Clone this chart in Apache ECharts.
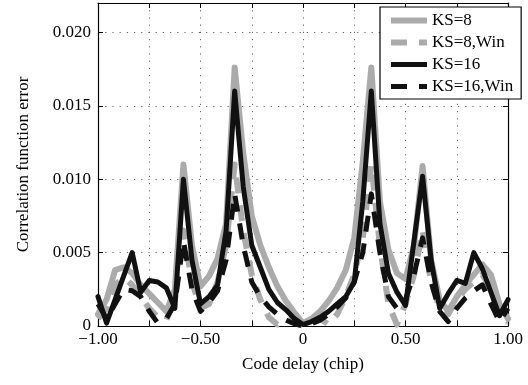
<!DOCTYPE html>
<html>
<head>
<meta charset="utf-8">
<script src="https://cdn.jsdelivr.net/npm/echarts@6/dist/echarts.min.js"></script>
<style>html,body{margin:0;padding:0;background:#fff;}#c{width:528px;height:385px;}</style>
</head>
<body>
<div id="c"></div>
<script>
// Code delay samples (chip)
const codeDelay = [-1, -0.9583, -0.9167, -0.875, -0.8333, -0.7917, -0.75, -0.7083, -0.6667, -0.625, -0.5833, -0.5417, -0.5, -0.4583, -0.4167, -0.375, -0.3333, -0.2917, -0.25, -0.2083, -0.1667, -0.125, -0.0833, -0.0417, 0, 0.0417, 0.0833, 0.125, 0.1667, 0.2083, 0.25, 0.2917, 0.3333, 0.375, 0.4167, 0.4583, 0.5, 0.5417, 0.5833, 0.625, 0.6667, 0.7083, 0.75, 0.7917, 0.8333, 0.875, 0.9167, 0.9583, 1];

const ks8 = [0.0008, 0.0018, 0.0038, 0.0040, 0.0036, 0.0028, 0.0022, 0.0016, 0.0010, 0.0025, 0.0110, 0.0055, 0.0027, 0.0034, 0.0046, 0.0070, 0.0176, 0.0118, 0.0075, 0.0055, 0.0040, 0.0027, 0.0017, 0.0009, 0.0002, 0.0005, 0.0010, 0.0017, 0.0026, 0.0038, 0.0060, 0.0112, 0.0176, 0.0085, 0.0052, 0.0036, 0.0032, 0.0055, 0.0109, 0.0045, 0.0018, 0.0010, 0.0020, 0.0028, 0.0035, 0.0042, 0.0035, 0.0015, 0.0005];

const ks8Win = [0.0005, 0.0012, 0.0028, 0.0033, 0.0028, 0.0020, 0.0012, 0.0006, 0.0004, 0.0020, 0.0065, 0.0030, 0.0012, 0.0015, 0.0030, 0.0055, 0.0110, 0.0065, 0.0035, 0.0018, 0.0006, 0.0001, 0.0005, 0.0003, 0.0000, 0.0003, 0.0005, 0.0001, 0.0008, 0.0020, 0.0035, 0.0060, 0.0110, 0.0055, 0.0015, 0.0001, 0.0015, 0.0035, 0.0065, 0.0030, 0.0012, 0.0008, 0.0018, 0.0025, 0.0030, 0.0035, 0.0025, 0.0005, 0.0003];

const ks16 = [0.0020, 0.0002, 0.0018, 0.0034, 0.0050, 0.0023, 0.0031, 0.0030, 0.0026, 0.0012, 0.0100, 0.0045, 0.0015, 0.0020, 0.0028, 0.0065, 0.0160, 0.0095, 0.0055, 0.0040, 0.0025, 0.0016, 0.0011, 0.0005, 0.0001, 0.0003, 0.0006, 0.0010, 0.0015, 0.0020, 0.0030, 0.0085, 0.0160, 0.0070, 0.0036, 0.0023, 0.0014, 0.0058, 0.0102, 0.0045, 0.0012, 0.0022, 0.0031, 0.0029, 0.0050, 0.0039, 0.0023, 0.0007, 0.0018];

const ks16Win = [0.0015, 0.0005, 0.0015, 0.0025, 0.0024, 0.0020, 0.0010, 0.0002, 0.0005, 0.0015, 0.0058, 0.0025, 0.0010, 0.0016, 0.0024, 0.0045, 0.0090, 0.0055, 0.0030, 0.0020, 0.0013, 0.0008, 0.0004, 0.00015, 0.0000, 0.00015, 0.0004, 0.0008, 0.0013, 0.0019, 0.0030, 0.0050, 0.0090, 0.0050, 0.0020, 0.0012, 0.0018, 0.0035, 0.0060, 0.0030, 0.0010, 0.0003, 0.0012, 0.0019, 0.0024, 0.0028, 0.0015, 0.0003, 0.0012];

const seriesNames = ['KS=8', 'KS=8,Win', 'KS=16', 'KS=16,Win'];
const seriesValues = [ks8, ks8Win, ks16, ks16Win];

const xAxisName = 'Code delay (chip)';
const yAxisName = 'Correlation function error';

const FONT = 'Liberation Serif';
const GREY = '#ababab';
const BLACK = '#111111';

function pairs(vals) { return codeDelay.map((x, i) => [x, vals[i]]); }

const styles = [
  { color: GREY, width: 6, type: 'solid' },
  { color: GREY, width: 6, type: [16, 12] },
  { color: BLACK, width: 5, type: 'solid' },
  { color: BLACK, width: 5, type: [16, 12] }
];

function xFmt(v) {
  if (Math.abs(v * 2 - Math.round(v * 2)) > 1e-6) return '';
  if (Math.abs(v) < 1e-9) return '0';
  return (v < 0 ? '\u2212' : '') + Math.abs(v).toFixed(2);
}
function yFmt(v) {
  if (Math.abs(v / 0.005 - Math.round(v / 0.005)) > 1e-6) return '';
  if (Math.abs(v) < 1e-12) return '0';
  return v.toFixed(3);
}

const chart = echarts.init(document.getElementById('c'), null, { renderer: 'canvas' });
const axisCommonLine = { show: true, onZero: false, lineStyle: { color: '#000', width: 1.2 } };
const tickCommon = { show: true, inside: true, length: 5, lineStyle: { color: '#000', width: 1 } };
const dotted = { show: true, lineStyle: { color: '#666', width: 1, type: [1.2, 6] } };

chart.setOption({
  animation: false,
  backgroundColor: '#fff',
  grid: { left: 98, right: 20, top: 3, bottom: 59, containLabel: false, outerBoundsMode: 'none' },
  legend: {
    orient: 'vertical',
    left: 380, top: 7,
    padding: [5, 8, 4, 8],
    itemGap: 5,
    itemWidth: 36, itemHeight: 18,
    backgroundColor: '#fff',
    borderColor: '#000', borderWidth: 1.2,
    z: 10,
    itemStyle: { opacity: 0, borderWidth: 0 },
    textStyle: { fontFamily: FONT, fontSize: 17, color: '#000' },
    data: seriesNames.map((n, k) => ({
      name: n,
      lineStyle: { color: styles[k].color, width: styles[k].width, type: styles[k].type, opacity: 1, cap: 'butt' }
    }))
  },
  xAxis: [
    {
      type: 'value', min: -1, max: 1, interval: 0.25, position: 'bottom',
      name: xAxisName, nameLocation: 'middle', nameGap: 30,
      nameTextStyle: { fontFamily: FONT, fontSize: 17, color: '#000' },
      axisLine: axisCommonLine, axisTick: tickCommon,
      axisLabel: { formatter: xFmt, fontFamily: FONT, fontSize: 17, color: '#000', margin: 5 },
      splitLine: dotted
    },
    {
      type: 'value', min: -1, max: 1, interval: 0.25, position: 'top',
      axisLine: axisCommonLine, axisTick: tickCommon,
      axisLabel: { show: false }, splitLine: { show: false }
    }
  ],
  yAxis: [
    {
      type: 'value', min: 0, max: 0.022, interval: 0.005, position: 'left',
      name: yAxisName, nameLocation: 'middle', nameGap: 66,
      nameTextStyle: { fontFamily: FONT, fontSize: 17, color: '#000' },
      axisLine: axisCommonLine, axisTick: tickCommon,
      axisLabel: { formatter: yFmt, fontFamily: FONT, fontSize: 17, color: '#000', margin: 7, showMaxLabel: false },
      splitLine: dotted
    },
    {
      type: 'value', min: 0, max: 0.022, interval: 0.005, position: 'right',
      axisLine: axisCommonLine, axisTick: tickCommon,
      axisLabel: { show: false }, splitLine: { show: false }
    }
  ],
  series: seriesNames.map((n, k) => ({
    name: n, type: 'line', data: pairs(seriesValues[k]),
    xAxisIndex: 0, yAxisIndex: 0,
    symbol: 'none', showSymbol: false,
    itemStyle: { color: styles[k].color },
    lineStyle: { color: styles[k].color, width: styles[k].width, type: styles[k].type, join: 'round', cap: styles[k].type === 'solid' ? 'round' : 'butt' },
    z: 2 + k
  }))
});
</script>
</body>
</html>
